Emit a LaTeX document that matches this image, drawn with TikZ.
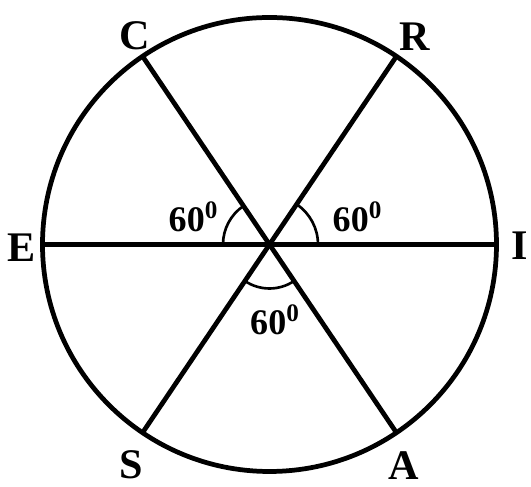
\documentclass[tikz,border=0pt]{standalone}
\usepackage{fontspec}
\setmainfont{Liberation Serif}
\usepackage{tikz}
\usetikzlibrary{positioning}

\tikzset{
  chord/.style={line width=2.7pt},
  anglearc/.style={line width=1.5pt},
  pointlabel/.style={anchor=base, inner sep=0pt, font=\fontsize{24}{28}\selectfont\bfseries},
  anglelabel/.style={anchor=base, inner sep=0pt, font=\fontsize{20.5}{24}\selectfont\bfseries}
}

\begin{document}
\begin{tikzpicture}
            \useasboundingbox (-5.39,-4.85) rectangle (5.23,4.89);
            \coordinate (O) at (0,0);
            \coordinate (C) at (124:4.54);
            \coordinate (R) at (56:4.54);
            \coordinate (E) at (180:4.54);
            \coordinate (I) at (0:4.54);
            \coordinate (S) at (236:4.54);
            \coordinate (A) at (304:4.54);
            \draw[chord] (O) circle (4.54);
            \draw[chord] (E) -- (I);
            \draw[chord] (C) -- (A);
            \draw[chord] (R) -- (S);
            % angle marks
            \draw[anglearc] (O) ++(180:0.93) arc[start angle=180, end angle=124, radius=0.93];
            \draw[anglearc] (O) ++(56:0.97) arc[start angle=56, end angle=0, radius=0.97];
            \draw[anglearc] (O) ++(236:0.88) arc[start angle=236, end angle=304, radius=0.88];
            \node[anglelabel] (aCE) at (-1.52,0.25) {60\textsuperscript{0}};
            \node[anglelabel] (aRI) at (1.76,0.25) {60\textsuperscript{0}};
            \node[anglelabel] (aSA) at (0.11,-1.81) {60\textsuperscript{0}};
            % points
            \node[pointlabel] (lC) at (-2.69,3.89) {C};
            \node[pointlabel] (lR) at (2.91,3.87) {R};
            \node[pointlabel] (lE) at (-4.95,-0.35) {E};
            \node[pointlabel] (lI) at (5.01,-0.31) {I};
            \node[pointlabel] (lS) at (-2.77,-4.68) {S};
            \node[pointlabel] (lA) at (2.69,-4.70) {A};
        \end{tikzpicture}
\end{document}
